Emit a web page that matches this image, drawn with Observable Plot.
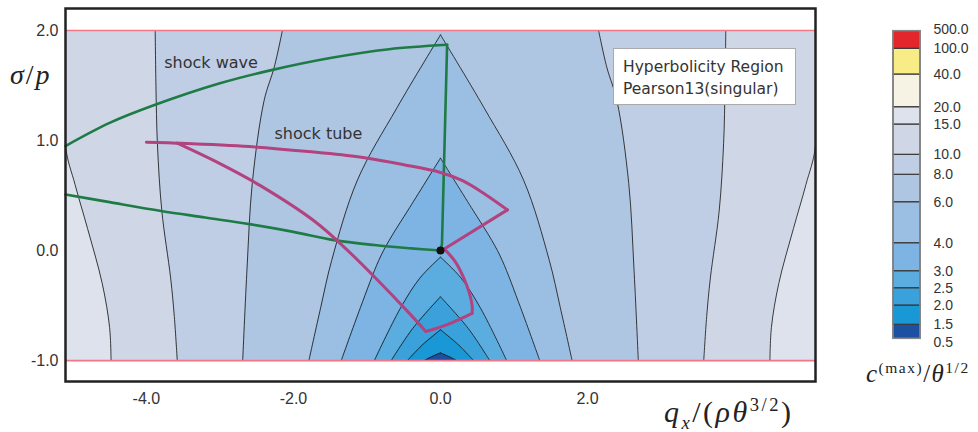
<!DOCTYPE html>
<html><head><meta charset="utf-8">
<script src="https://cdn.jsdelivr.net/npm/d3@7"></script>
<script src="https://cdn.jsdelivr.net/npm/@observablehq/plot@0.6"></script>
<style>
body{margin:0;background:#fff;}
#wrap{position:relative;width:978px;height:432px;overflow:hidden;font-family:"Liberation Sans",sans-serif;}
#wrap svg{position:absolute;top:0;}
.lbl{position:absolute;font-family:"Liberation Serif",serif;color:#222;white-space:nowrap;line-height:1;}
.lbl sup,.lbl sub{font-size:62%;}
#legend{position:absolute;left:613px;top:48px;width:183px;height:57px;border:1.5px solid #aaa;background:#fff;
  font-family:"DejaVu Sans",sans-serif;font-size:15.5px;color:#333;line-height:22px;padding:7px 0 0 9px;box-sizing:border-box;}
</style></head><body><div id="wrap"></div>
<script>
// ---- axes ----
const xTicks = [-4, -2, 0, 2];
const yTicks = [-1, 0, 1, 2];
const xDomain = [-5.1, 5.1];
const regionY = [-1, 2];            // hyperbolicity region bounds (red lines)

// ---- colour levels (c_max / theta^1/2) ----
const levels = [0.5, 1.5, 2.0, 2.5, 3.0, 4.0, 6.0, 8.0, 10.0, 15.0, 20.0, 40.0, 100.0, 500.0];
const bandColors = ["#1b50a2", "#1a97d5", "#3aa1db", "#5badE0", "#7db4e3", "#9bbee3", "#afc6e3", "#bfcde5", "#cfd7e7", "#dde2ec", "#f6f3e4", "#f7ec85", "#e3262c"];

// ---- contour lines: sigma/p values and half-width in q_x (symmetric about q_x = 0) ----
const c15Y  = [-1, -0.7, -0.3, 0.2, 0.6, 0.95, 2.0];
const c15W  = [4.48, 4.50, 4.60, 4.80, 4.97, 5.1, 5.1];
const c10Y  = [-1, -0.6, -0.25, 0.36, 0.97, 1.5, 2.0];
const c10W  = [3.58, 3.62, 3.67, 3.79, 3.85, 3.87, 3.88];
const c8Y   = [-1, -0.15, 0.61, 1.36, 1.67, 2.0];
const c8W   = [2.69, 2.63, 2.56, 2.40, 2.26, 2.15];
const c6Y   = [-1, -0.52, -0.09, 0.64, 1.30, 1.96];
const c6W   = [1.79, 1.63, 1.48, 1.13, 0.59, 0];
const c4Y   = [-1, -0.52, -0.09, 0.09, 0.39, 0.84];
const c4W   = [1.35, 1.09, 0.84, 0.70, 0.42, 0];
const c3Y   = [-1, -0.53, -0.25, -0.06];
const c3W   = [0.90, 0.55, 0.28, 0];
const c25Y  = [-1, -0.71, -0.42];
const c25W  = [0.67, 0.38, 0];
const c2Y   = [-1, -0.86, -0.72];
const c2W   = [0.45, 0.25, 0];
const c15sY = [-1, -0.965, -0.93];
const c15sW = [0.22, 0.12, 0];

const contourLevels = [15, 10, 8, 6, 4, 3, 2.5, 2, 1.5];
const contourYs = [c15Y, c10Y, c8Y, c6Y, c4Y, c3Y, c25Y, c2Y, c15sY];
const contourWs = [c15W, c10W, c8W, c6W, c4W, c3W, c25W, c2W, c15sW];

// ---- shock wave (green) ----
const swLowerX = [-5.1, -4.5, -3.8, -3.2, -2.6, -2.0, -1.45, -0.9, -0.4, 0];
const swLowerY = [0.51, 0.44, 0.36, 0.30, 0.24, 0.17, 0.095, 0.05, 0.02, 0];
const swUpperX = [-5.1, -4.5, -3.9, -3.0, -2.3, -1.5, -0.7, 0.09];
const swUpperY = [0.95, 1.16, 1.32, 1.52, 1.64, 1.75, 1.83, 1.87];
const swVertX  = [0.09, 0.02, 0];
const swVertY  = [1.87, 0.06, 0];

// ---- shock tube (magenta), split in smooth pieces ----
const stSeg = [0,0,0,0,0,0,0,0,0,0, 1,1, 2,2,2,2,2,2, 3,3,3, 4,4,4,4,4,4,4,4];
const stX = [-4.0, -3.58, -2.6, -1.8, -1.1, -0.5, 0, 0.3, 0.6, 0.91,
             0.91, 0.05,
             0.05, 0.2, 0.31, 0.39, 0.43, 0.43,
             0.43, 0.1, -0.20,
             -0.20, -0.41, -0.86, -1.30, -1.70, -2.45, -3.0, -3.58];
const stY = [0.985, 0.976, 0.945, 0.90, 0.85, 0.78, 0.71, 0.635, 0.515, 0.37,
             0.37, 0.015,
             0.015, -0.1, -0.24, -0.38, -0.5, -0.57,
             -0.57, -0.67, -0.735,
             -0.735, -0.58, -0.265, 0.025, 0.26, 0.59, 0.79, 0.976];

const junction = [0, 0];
const noteText = ["shock wave", "shock tube"];
const noteX = [-3.12, -1.66];
const noteY = [1.71, 1.06];

// ---- build tables ----
const pts = (xs, ys) => xs.map((x, i) => ({x, y: ys[i]}));
const fmt = d => d.toFixed(1);

const marks = [];
marks.push(Plot.rect([regionY], {x1: () => xDomain[0], x2: () => xDomain[1], y1: d => d[0], y2: d => d[1], fill: bandColors[levels.indexOf(15)]}));
contourLevels.forEach((lv, k) => {
  const rows = contourYs[k].map((y, i) => ({y, w: contourWs[k][i]}));
  const inside = bandColors[levels.indexOf(lv) - 1];
  marks.push(Plot.areaX(rows, {y: "y", x1: d => -d.w, x2: d => d.w, fill: inside, curve: "catmull-rom", clip: true}));
});
contourLevels.forEach((lv, k) => {
  const rows = contourYs[k].map((y, i) => ({y, w: contourWs[k][i]}));
  marks.push(Plot.line(rows, {x: d => -d.w, y: "y", curve: "catmull-rom", stroke: "#1a1a1a", strokeWidth: 0.85, clip: true}));
  marks.push(Plot.line(rows, {x: d => d.w, y: "y", curve: "catmull-rom", stroke: "#1a1a1a", strokeWidth: 0.85, clip: true}));
});
marks.push(Plot.ruleY(regionY, {stroke: "#f07787", strokeWidth: 1.6}));
marks.push(Plot.line(pts(swLowerX, swLowerY), {x: "x", y: "y", curve: "catmull-rom", stroke: "#1f7b46", strokeWidth: 2.6}));
marks.push(Plot.line(pts(swUpperX, swUpperY), {x: "x", y: "y", curve: "catmull-rom", stroke: "#1f7b46", strokeWidth: 2.6}));
marks.push(Plot.line(pts(swVertX, swVertY), {x: "x", y: "y", stroke: "#1f7b46", strokeWidth: 2.6}));
marks.push(Plot.line(stX.map((x, i) => ({x, y: stY[i], s: stSeg[i]})), {x: "x", y: "y", z: "s", curve: "catmull-rom", stroke: "#b2437f", strokeWidth: 3, strokeLinecap: "round", strokeLinejoin: "round"}));
marks.push(Plot.dot([junction], {x: d => d[0], y: d => d[1], r: 4, fill: "#111"}));
marks.push(Plot.text(noteText, {x: (d, i) => noteX[i], y: (d, i) => noteY[i], text: d => d, fontSize: 16, fontFamily: "DejaVu Sans", fill: "#333"}));
marks.push(Plot.frame({stroke: "#222", strokeWidth: 2.5}));

const main = Plot.plot({
  width: 978, height: 432,
  marginLeft: 65, marginRight: 163, marginTop: 8, marginBottom: 51,
  x: {domain: xDomain, ticks: xTicks, tickSize: 0, tickPadding: 11, tickFormat: fmt, label: null},
  y: {domain: [-1.19, 2.2], ticks: yTicks, tickSize: 0, tickPadding: 7, tickFormat: fmt, label: null},
  style: {fontFamily: "Liberation Sans", fontSize: "16px", color: "#333", background: "transparent"},
  marks
});
main.style.left = "0px";

// ---- colour bar ----
const barPos = [338.3, 324.3, 305, 287.7, 270.7, 242.7, 201.7, 174.3, 154.3, 124, 106.7, 74, 48.3, 30.7];
const bands = bandColors.map((c, i) => ({lo: levels[i], hi: levels[i + 1], c}));
const inner = levels.slice(1, -1);
const bar = Plot.plot({
  width: 118, height: 432, margin: 0,
  x: {domain: [0, 1], range: [33, 60], axis: null},
  y: {type: "linear", domain: levels, range: barPos, axis: null},
  style: {fontFamily: "Liberation Sans", background: "transparent", overflow: "visible"},
  marks: [
    Plot.rect(bands, {x1: () => 0, x2: () => 1, y1: "lo", y2: "hi", fill: "c", stroke: "#3a3a3a", strokeWidth: 1.2}),
    Plot.rect([[levels[0], levels[levels.length - 1]]], {x1: () => 0, x2: () => 1, y1: d => d[0], y2: d => d[1], fill: "none", stroke: "#888", strokeWidth: 1.6}),
    Plot.text(inner, {x: () => 1, y: d => d, text: fmt, dx: 13, textAnchor: "start", fontSize: 14, fill: "#333"}),
    Plot.text([levels[0]], {x: () => 1, y: d => d, text: fmt, dx: 13, dy: 4, textAnchor: "start", fontSize: 14, fill: "#333"}),
    Plot.text([levels[levels.length - 1]], {x: () => 1, y: d => d, text: fmt, dx: 13, dy: -2, textAnchor: "start", fontSize: 14, fill: "#333"})
  ]
});
bar.style.left = "860px";

const wrap = document.getElementById("wrap");
wrap.appendChild(main);
wrap.appendChild(bar);

function addLabel(html, left, top, size, spacing) {
  const d = document.createElement("div");
  d.className = "lbl";
  d.innerHTML = html;
  d.style.left = left + "px"; d.style.top = top + "px"; d.style.fontSize = size + "px";
  d.style.letterSpacing = spacing + "px";
  wrap.appendChild(d);
}
addLabel('<i>σ</i>/<i>p</i>', 10, 61, 28, 2);
addLabel('<i>q</i><sub><i>x</i></sub>/(<i>ρθ</i><sup>3/2</sup>)', 664, 396, 30, 2.5);
addLabel('<i>c</i><sup>(max)</sup>/<i>θ</i><sup>1/2</sup>', 866, 360, 25, 1.5);

const lg = document.createElement("div");
lg.id = "legend";
lg.innerHTML = "Hyperbolicity Region<br>Pearson13(singular)";
wrap.appendChild(lg);
</script></body></html>
